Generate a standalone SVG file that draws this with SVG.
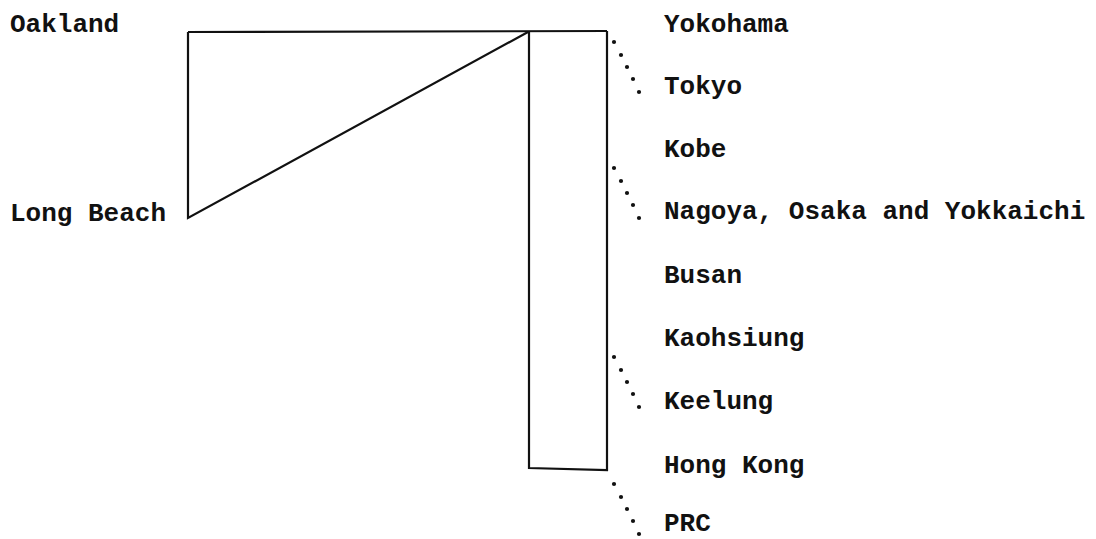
<svg xmlns="http://www.w3.org/2000/svg" width="1096" height="539" viewBox="0 0 1096 539">
<style>
.lbl{font-family:"Liberation Mono","DejaVu Sans Mono",monospace;font-size:26px;fill:#111;font-weight:bold}
.ln{fill:none;stroke:#111;stroke-width:2.2;stroke-linejoin:miter}
.dot{fill:#111}
</style>
<defs>
<g id="dots">
<circle class="dot" cx="0" cy="0" r="2.1"/>
<circle class="dot" cx="7" cy="13" r="2.1"/>
<circle class="dot" cx="13" cy="25" r="2.1"/>
<circle class="dot" cx="19" cy="37" r="2.1"/>
<circle class="dot" cx="25" cy="50" r="2.1"/>
</g>
</defs>
<rect width="1096" height="539" fill="#fff"/>
<g id="connectors">
<path class="ln" d="M188,32 L607,31"/>
<path class="ln" d="M188,32 L188,218 L528,32"/>
<path class="ln" d="M529,31 L529,468 L607,470 L607,31"/>
<use href="#dots" x="614" y="42"/>
<use href="#dots" x="614" y="168"/>
<use href="#dots" x="614" y="357"/>
<use href="#dots" x="614" y="484"/>
</g>
<g id="oakland"><text class="lbl" x="10" y="32">Oakland</text></g>
<g id="longbeach"><text class="lbl" x="10" y="221">Long Beach</text></g>
<g id="yokohama"><text class="lbl" x="664" y="32">Yokohama</text></g>
<g id="tokyo"><text class="lbl" x="664" y="94">Tokyo</text></g>
<g id="kobe"><text class="lbl" x="664" y="157">Kobe</text></g>
<g id="nagoya"><text class="lbl" x="664" y="219">Nagoya, Osaka and Yokkaichi</text></g>
<g id="busan"><text class="lbl" x="664" y="283">Busan</text></g>
<g id="kaohsiung"><text class="lbl" x="664" y="346">Kaohsiung</text></g>
<g id="keelung"><text class="lbl" x="664" y="409">Keelung</text></g>
<g id="hongkong"><text class="lbl" x="664" y="473">Hong Kong</text></g>
<g id="prc"><text class="lbl" x="664" y="531">PRC</text></g>
</svg>
